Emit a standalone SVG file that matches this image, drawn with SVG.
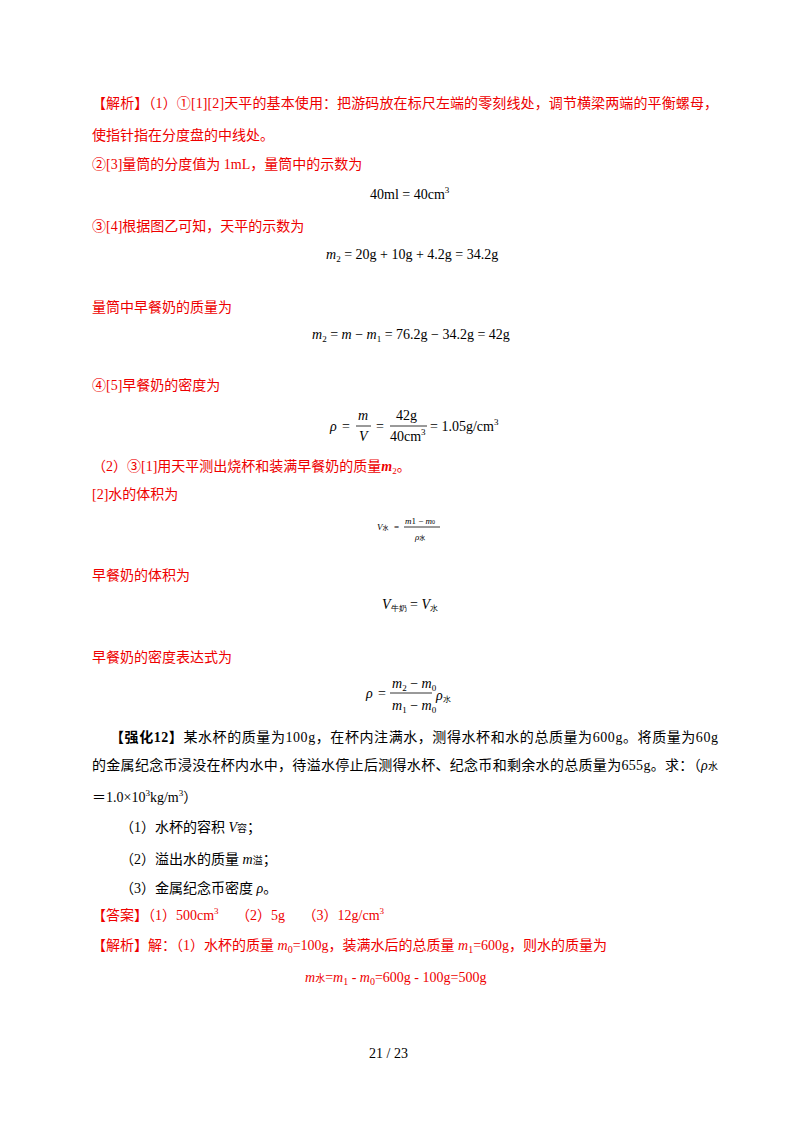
<svg xmlns="http://www.w3.org/2000/svg" width="800" height="1132" viewBox="0 0 800 1132">
<style>
text{font-family:"Liberation Serif","Noto Sans CJK SC",serif;font-size:14px;fill:#000}
.r{fill:#ee0000}
.m{font-family:"Liberation Serif",serif;font-size:14px}
.i{font-style:italic}
.s{font-size:9px}
.t{font-size:9px}
line{stroke:#000;stroke-width:0.8}
</style>
<rect width="800" height="1132" fill="#fff"/>
<text class="r" x="92" y="108" textLength="626">【解析】（1）①[1][2]天平的基本使用：把游码放在标尺左端的零刻线处，调节横梁两端的平衡螺母，</text>
<text class="r" x="92" y="140">使指针指在分度盘的中线处。</text>
<text class="r" x="92" y="169">②[3]量筒的分度值为 1mL，量筒中的示数为</text>
<text class="m" x="370" y="199">40ml = 40cm<tspan class="s" dy="-6">3</tspan></text>
<text class="r" x="92" y="231">③[4]根据图乙可知，天平的示数为</text>
<text class="m" x="326" y="259"><tspan class="i">m</tspan><tspan class="s" dy="3">2</tspan><tspan dy="-3"> = 20g + 10g + 4.2g = 34.2g</tspan></text>
<text class="r" x="92" y="312">量筒中早餐奶的质量为</text>
<text class="m" x="312" y="339"><tspan class="i">m</tspan><tspan class="s" dy="3">2</tspan><tspan dy="-3"> = </tspan><tspan class="i">m</tspan> − <tspan class="i">m</tspan><tspan class="s" dy="3">1</tspan><tspan dy="-3"> = 76.2g − 34.2g = 42g</tspan></text>
<text class="r" x="92" y="390">④[5]早餐奶的密度为</text>
<text class="m i" x="330" y="431">ρ</text>
<text class="m" x="342" y="431">=</text>
<text class="m i" x="358" y="420">m</text>
<line x1="356" y1="426" x2="371" y2="426"/>
<text class="m i" x="359" y="441">V</text>
<text class="m" x="376" y="431">=</text>
<text class="m" x="396" y="420">42g</text>
<line x1="390" y1="426" x2="427" y2="426"/>
<text class="m" x="390" y="441">40cm<tspan class="s" dy="-6">3</tspan></text>
<text class="m" x="430" y="431">= 1.05g/cm<tspan class="s" dy="-6">3</tspan></text>
<text class="r" x="92" y="471">（2）③[1]用天平测出烧杯和装满早餐奶的质量<tspan class="i" font-weight="bold">m</tspan><tspan class="s" dy="3">2</tspan><tspan dy="-3">。</tspan></text>
<text class="r" x="92" y="499">[2]水的体积为</text>
<g font-size="9">
<text class="t i" x="377" y="530" font-size="10">V<tspan font-style="normal" font-size="6">水</tspan></text>
<text class="t" x="394" y="530">=</text>
<text class="t i" x="405" y="524">m<tspan class="t" font-size="6" font-style="normal">1</tspan><tspan font-style="normal"> − </tspan>m<tspan font-size="6" font-style="normal">0</tspan></text>
<line x1="404" y1="527" x2="440" y2="527" stroke-width="0.5"/>
<text class="t i" x="415" y="540">ρ<tspan font-size="6" font-style="normal">水</tspan></text>
</g>
<text class="r" x="92" y="580">早餐奶的体积为</text>
<text class="m i" x="382" y="609">V<tspan font-style="normal" font-size="8" dy="2">牛奶</tspan><tspan font-style="normal" dy="-2"> = </tspan>V<tspan font-style="normal" font-size="8" dy="2">水</tspan></text>
<text class="r" x="92" y="662">早餐奶的密度表达式为</text>
<text class="m i" x="366" y="698">ρ</text>
<text class="m" x="378" y="698">=</text>
<text class="m i" x="392" y="688">m<tspan class="s" font-style="normal" dy="3">2</tspan><tspan font-style="normal" dy="-3"> − </tspan>m<tspan class="s" font-style="normal" dy="3">0</tspan></text>
<line x1="390" y1="693" x2="432" y2="693"/>
<text class="m i" x="392" y="710">m<tspan class="s" font-style="normal" dy="3">1</tspan><tspan font-style="normal" dy="-3"> − </tspan>m<tspan class="s" font-style="normal" dy="3">0</tspan></text>
<text class="m i" x="436" y="700">ρ<tspan font-style="normal" font-size="8" dy="2">水</tspan></text>
<text x="110" y="742" textLength="608"><tspan font-weight="bold">【强化12】</tspan>某水杯的质量为100g，在杯内注满水，测得水杯和水的总质量为600g。将质量为60g</text>
<text x="92" y="770" textLength="626">的金属纪念币浸没在杯内水中，待溢水停止后测得水杯、纪念币和剩余水的总质量为655g。求：（<tspan class="i">ρ</tspan><tspan font-size="10">水</tspan></text>
<text x="92" y="802">＝1.0×10<tspan class="s" dy="-6">3</tspan><tspan dy="6">kg/m</tspan><tspan class="s" dy="-6">3</tspan><tspan dy="6">）</tspan></text>
<text x="120" y="832">（1）水杯的容积 <tspan class="i">V</tspan><tspan font-size="10">容</tspan>；</text>
<text x="120" y="864">（2）溢出水的质量 <tspan class="i">m</tspan><tspan font-size="10">溢</tspan>；</text>
<text x="120" y="893">（3）金属纪念币密度 <tspan class="i">ρ</tspan>。</text>
<text class="r" x="92" y="920">【答案】（1）500cm<tspan class="s" dy="-6">3</tspan><tspan dy="6">　  （2）5g　  （3）12g/cm</tspan><tspan class="s" dy="-6">3</tspan></text>
<text class="r" x="92" y="950">【解析】解：（1）水杯的质量 <tspan class="i">m</tspan><tspan font-size="10" dy="3">0</tspan><tspan dy="-3">=100g，装满水后的总质量 </tspan><tspan class="i">m</tspan><tspan font-size="10" dy="3">1</tspan><tspan dy="-3">=600g，则水的质量为</tspan></text>
<text class="r" x="305" y="982"><tspan class="i">m</tspan><tspan font-size="10">水</tspan>=<tspan class="i">m</tspan><tspan font-size="10" dy="3">1</tspan><tspan dy="-3"> - </tspan><tspan class="i">m</tspan><tspan font-size="10" dy="3">0</tspan><tspan dy="-3">=600g - 100g=500g</tspan></text>
<text x="369" y="1058">21  /  23</text>
</svg>
